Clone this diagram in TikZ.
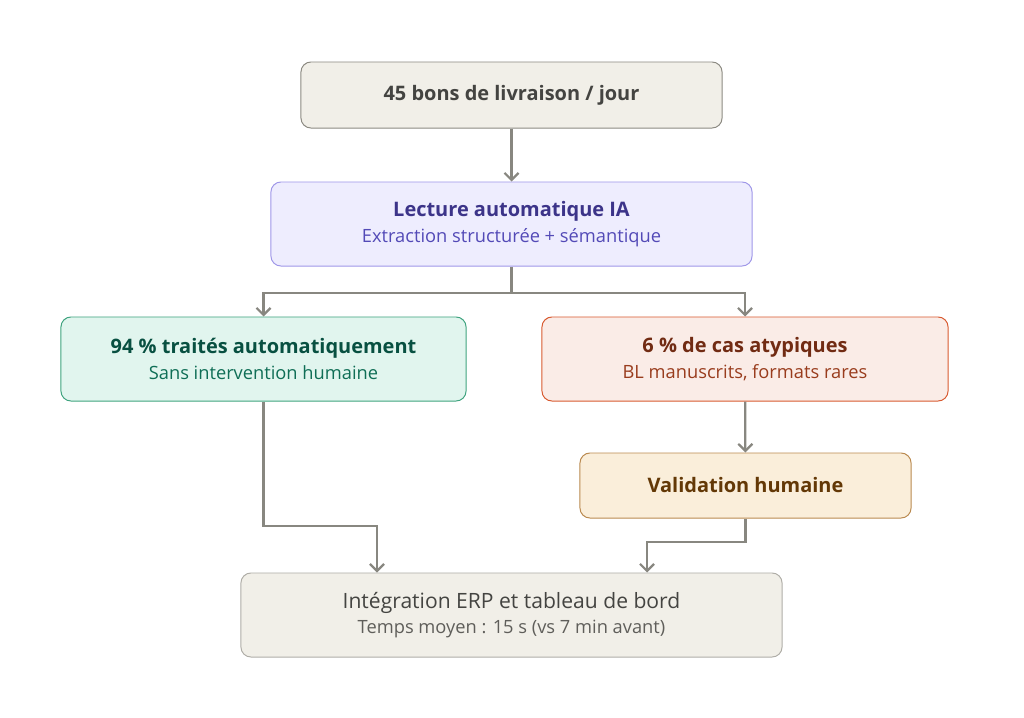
\documentclass[tikz,border=0pt]{standalone}
\usepackage{fontspec}
\setmainfont{Open Sans}
\usetikzlibrary{arrows.meta,positioning}

\definecolor{neutralfill}{HTML}{F1EFE8}
\definecolor{neutraldraw}{HTML}{8C8A82}
\definecolor{neutraltext}{HTML}{444441}
\definecolor{neutralsub}{HTML}{5F5E5A}
\definecolor{iafill}{HTML}{EEEDFE}
\definecolor{iadraw}{HTML}{9F97E8}
\definecolor{iatext}{HTML}{3C3489}
\definecolor{iasub}{HTML}{534AB7}
\definecolor{autofill}{HTML}{E1F5EE}
\definecolor{autodraw}{HTML}{3FA37F}
\definecolor{autotext}{HTML}{085041}
\definecolor{autosub}{HTML}{0F6E56}
\definecolor{rarefill}{HTML}{FAECE7}
\definecolor{raredraw}{HTML}{D85A30}
\definecolor{raretext}{HTML}{712B13}
\definecolor{raresub}{HTML}{993C1D}
\definecolor{checkfill}{HTML}{FAEEDA}
\definecolor{checkdraw}{HTML}{BA8A50}
\definecolor{checktext}{HTML}{633806}
\definecolor{arrowgray}{HTML}{888780}

\newcommand{\boxtitle}{\fontsize{14.2}{17}\selectfont\bfseries}
\newcommand{\boxsub}{\fontsize{13}{15}\selectfont}

\tikzset{
  box/.style={draw, rounded corners=0.25cm, line width=0.7pt, align=center, inner sep=0pt, minimum height=2.1cm},
  flow/.style={draw=arrowgray, line width=1.6pt, -{Straight Barb[length=5pt,width=10pt]}},
}

\begin{document}
\begin{tikzpicture}[x=0.025cm, y=-0.025cm]
\useasboundingbox (0,0) rectangle (1024,717);
\node[box, fill=neutralfill, draw=neutraldraw, text=neutraltext, minimum width=10.525cm, minimum height=1.65cm] (daily) at (511.5,95) {\boxtitle 45 bons de livraison / jour};
\node[box, fill=iafill, draw=iadraw, minimum width=12.025cm] (ia) at (511.5,224) {\color{iatext}\boxtitle Lecture automatique IA\\[4pt] \color{iasub}\boxsub Extraction structurée + sémantique};
\node[box, fill=autofill, draw=autodraw, minimum width=10.125cm] (auto) at (263.5,359) {\color{autotext}\boxtitle 94 \% traités automatiquement\\[4pt] \color{autosub}\boxsub Sans intervention humaine};
\node[box, fill=rarefill, draw=raredraw, minimum width=10.15cm] (rare) at (745,359) {\color{raretext}\boxtitle 6 \% de cas atypiques\\[4pt] \color{raresub}\boxsub BL manuscrits, formats rares};
\node[box, fill=checkfill, draw=checkdraw, text=checktext, minimum width=8.275cm, minimum height=1.625cm] (check) at (745.5,485.5) {\boxtitle Validation humaine};
\node[box, fill=neutralfill, draw=neutraldraw!70, minimum width=13.525cm] (final) at (511.5,615) {\color{neutraltext}\fontsize{15}{17}\selectfont Intégration ERP et tableau de bord\\[4pt] \color{neutralsub}\boxsub Temps moyen : 15 s (vs 7 min avant)};

\coordinate (split) at (511.5,293);
\coordinate (joinL) at (377,526);
\coordinate (joinR) at (647,542);

\draw[flow] (daily) -- (ia);
\draw[flow] (ia.south) -- (split) -| (auto.north);
\draw[flow] (split) -| (rare.north);
\draw[flow] (rare) -- (check);
\draw[flow] (auto.south) |- (joinL) -- (final.north -| joinL);
\draw[flow] (check.south) |- (joinR) -- (final.north -| joinR);
\end{tikzpicture}
\end{document}
